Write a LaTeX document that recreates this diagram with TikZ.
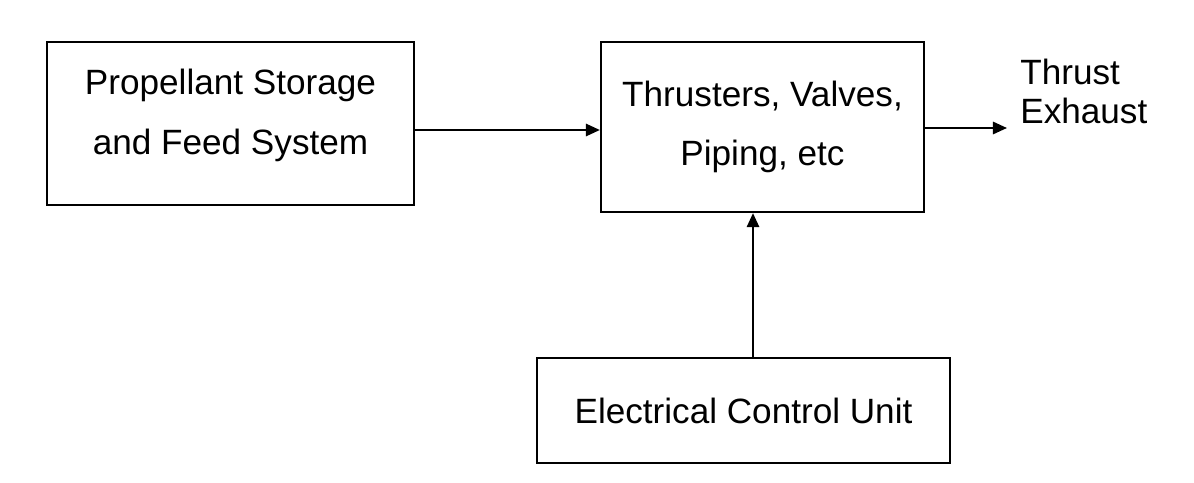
\documentclass[tikz,border=0pt]{standalone}
\usepackage{fontspec}
\setmainfont{Liberation Sans}
\usepackage{tikz}
\usetikzlibrary{arrows.meta}

\begin{document}
\begin{tikzpicture}[
    x=0.02cm, y=-0.02cm,
    box/.style={rectangle, draw, line width=1.3pt, align=center, inner sep=0pt, font=\fontsize{20}{34}\selectfont},
    arrow/.style={line width=1.2pt, -{Triangle[length=8pt, width=7pt]}}
]
    % Canvas
    \useasboundingbox[fill=white] (0,0) rectangle (1194,483);

    % Nodes
    \node[box, minimum width=7.34cm, minimum height=3.26cm] (feed) at (230.5,123.5) {Propellant Storage\\and Feed System\rule[-0.47cm]{0pt}{0.47cm}};
    \node[box, minimum width=6.46cm, minimum height=3.4cm] (thrusters) at (762.5,127) {Thrusters, Valves,\\Piping, etc};
    \node[box, minimum width=8.26cm, minimum height=2.1cm] (control) at (743.5,410.5) {Electrical Control Unit};
    \node[anchor=north west, inner sep=0pt, align=left, font=\fontsize{20}{22}\selectfont] (exhaust) at (1020,59) {Thrust\\Exhaust};
    \coordinate (exhaustend) at (1007,128);

    % Connections
    \draw[arrow] ([yshift=-0.13cm]feed.east) -- ([yshift=-0.13cm]feed.east -| thrusters.west);
    \draw[arrow] (thrusters.east |- exhaustend) -- (exhaustend);
    \draw[arrow] ([xshift=0.19cm]control.north) -- ([xshift=0.19cm]control.north |- thrusters.south);
\end{tikzpicture}
\end{document}
